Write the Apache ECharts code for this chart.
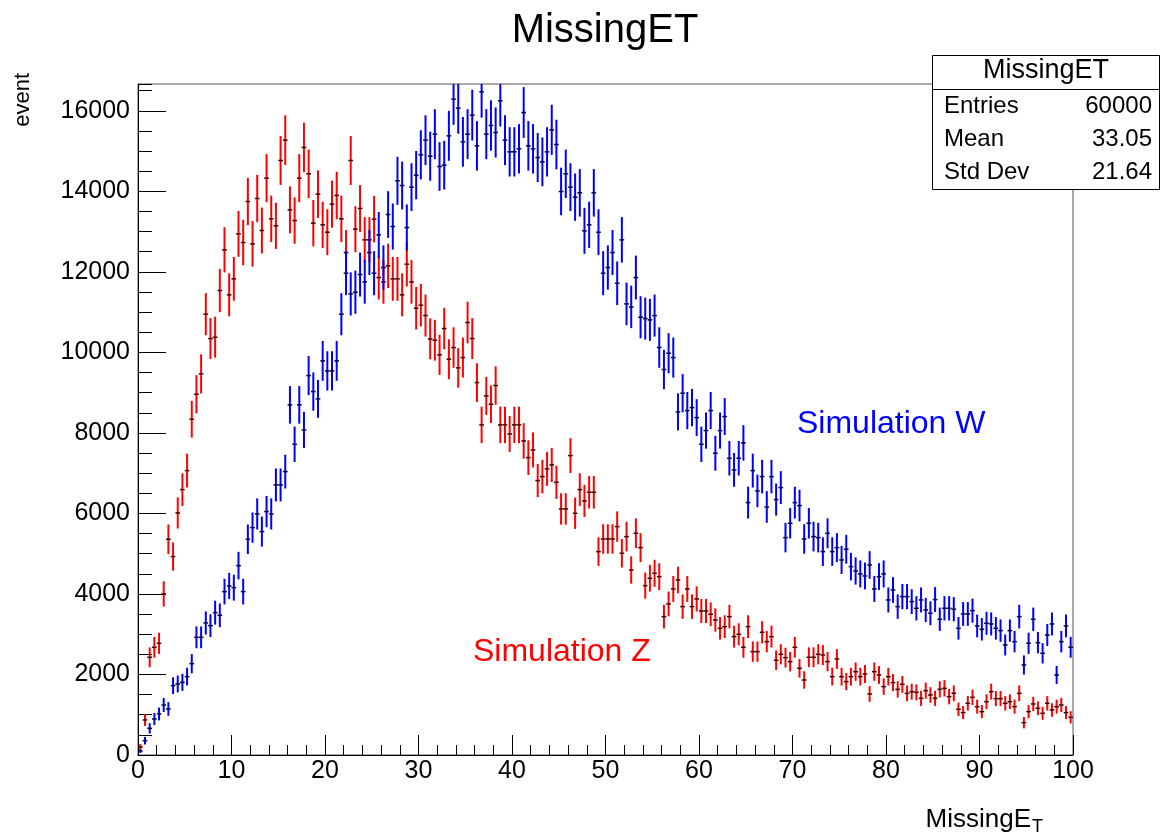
<!DOCTYPE html>
<html>
<head>
<meta charset="utf-8">
<script src="https://cdn.jsdelivr.net/npm/echarts@6/dist/echarts.min.js"></script>
<style>
html,body{margin:0;padding:0;background:#fff;}
#chart{width:1162px;height:834px;}
</style>
</head>
<body>
<div id="chart"></div>
<script>
// ---------------- data ----------------
const binWidth = 0.5;      // histogram bin width (MissingE_T units)
const xRange = [0, 100];
const yMax = 16666;
const xTickStep = 10;
const yTickStep = 2000;
const yMinorStep = 500;
const errScale = 25;       // weight per entry -> error = sqrt(weight * content)

// Simulation Z (red), 200 bins from 0 to 100
const zCounts = [
  200, 870, 2427, 2675, 2774, 4000, 5358, 4928, 6012, 6592,
  7064, 8340, 8961, 9466, 10949, 10343, 10377, 11536, 12547, 11429,
  11826, 12944, 12729, 13747, 12696, 13822, 13027, 14327, 13317, 13143,
  14766, 15272, 13540, 13275, 14327, 15089, 14435, 13209, 13930, 13168,
  12985, 13681, 13897, 13317, 12480, 14766, 13060, 13574, 12795, 12795,
  13309, 11859, 11751, 12149, 11826, 11826, 11429, 12190, 11751, 11097,
  11172, 10915, 10335, 10302, 9938, 10592, 9830, 10120, 9615, 9871,
  10741, 10344, 9250, 8199, 8919, 8712, 9176, 8199, 8199, 7975,
  8199, 8199, 7801, 7387, 7578, 6816, 6915, 7106, 7205, 6774,
  6112, 6112, 7437, 6004, 6592, 6311, 6526, 6526, 5052, 5366,
  5366, 5366, 5673, 5010, 5424, 4596, 5507, 5151, 4207, 4389,
  4513, 4430, 3437, 3752, 4124, 4348, 3685, 4124, 3685, 3876,
  3578, 3578, 3495, 3354, 3147, 3188, 3437, 2940, 2998, 2675,
  3188, 2567, 2567, 3048, 2816, 2940, 2352, 2501, 2418, 2319,
  2675, 2153, 1863, 2427, 2427, 2501, 2484, 2319, 1946, 2385,
  1946, 1822, 1946, 2070, 1946, 2012, 1516, 2070, 1988, 1698,
  1946, 1797, 1631, 1756, 1532, 1573, 1557, 1408, 1598, 1491,
  1408, 1631, 1656, 1449, 1532, 1135, 1052, 1284, 1433, 1201,
  1077, 1325, 1573, 1400, 1400, 1284, 1325, 1201, 1532, 803,
  1077, 1268, 1160, 1035, 1284, 1118, 1201, 1242, 1052, 936
];

// Simulation W (blue), 200 bins from 0 to 100
const wCounts = [
  100, 356, 662, 894, 1019, 1242, 1143, 1723, 1764, 1805,
  1946, 2269, 2923, 2923, 3280, 3213, 3536, 3470, 4058, 4199,
  4157, 4704, 4058, 5358, 5648, 5988, 5549, 6046, 5988, 6708,
  6708, 7039, 8696, 7718, 8696, 8075, 9424, 9027, 8845, 9789,
  9540, 9540, 9789, 10948, 11967, 11453, 11495, 11934, 11751, 12480,
  11967, 12919, 12108, 13424, 13126, 14261, 14145, 13101, 14104, 14402,
  14907, 15271, 14873, 15420, 14617, 14650, 15379, 16290, 16066, 15230,
  15420, 15892, 15130, 16472, 15420, 15636, 15462, 16248, 15271, 14981,
  14981, 15056, 15958, 15130, 15056, 14840, 14733, 14981, 15528, 15163,
  13996, 14435, 14104, 13855, 13963, 13019, 13168, 13963, 12985, 11967,
  12108, 12480, 11718, 12795, 11205, 11130, 11859, 10874, 10840, 10807,
  10915, 10120, 9574, 9979, 9871, 8522, 8985, 8555, 8629, 8381,
  7718, 8058, 8555, 7495, 8058, 8406, 7371, 7081, 7371, 7752,
  6269, 7064, 6559, 6915, 6161, 6915, 6344, 6642, 5400, 5756,
  6269, 6195, 5366, 5756, 5424, 5400, 5052, 5507, 5052, 5151,
  4845, 5110, 4679, 4571, 4497, 4447, 4720, 4124, 4431, 4497,
  3851, 4099, 3685, 3934, 3934, 3810, 3644, 3851, 3602, 3520,
  3860, 3371, 3644, 3644, 3620, 3147, 3503, 3503, 3586, 3205,
  3122, 3271, 3255, 3147, 3089, 2733, 3089, 2816, 3437, 2236,
  2774, 3371, 2790, 2526, 2981, 3255, 1988, 2816, 3205, 2675
];

const statsTitle = 'MissingET';
const statsRows = [['Entries', '60000'], ['Mean', '33.05'], ['Std Dev', '21.64']];

// ---------------- chart ----------------
const FONT = '"Liberation Sans", Arial, Helvetica, sans-serif';

function toPoints(counts) {
  return counts.map((c, i) => [xRange[0] + (i + 0.5) * binWidth, c, Math.sqrt(errScale * c)]);
}

function makeRender(color, markColor) {
  return function (params, api) {
    const x = api.value(0), y = api.value(1), e = api.value(2);
    const lo = api.coord([x, y - e]);
    const hi = api.coord([x, y + e]);
    const l = api.coord([x - binWidth / 2, y]);
    const r = api.coord([x + binWidth / 2, y]);
    return {
      type: 'group',
      children: [
        { type: 'line', shape: { x1: lo[0], y1: lo[1], x2: hi[0], y2: hi[1] },
          style: { stroke: color, lineWidth: 2 } },
        { type: 'line', shape: { x1: l[0], y1: l[1], x2: r[0], y2: r[1] },
          style: { stroke: markColor, lineWidth: 1.5 } }
      ]
    };
  };
}

const chart = echarts.init(document.getElementById('chart'), null, { renderer: 'canvas' });

const graphics = [
  { type: 'text', z: 100, x: 605, y: 31,
    style: { text: 'MissingET', font: '40px ' + FONT, fill: '#000', align: 'center', verticalAlign: 'middle' } },
  { type: 'text', z: 100, x: 23, y: 73, rotation: Math.PI / 2,
    style: { text: 'event', font: '22px ' + FONT, fill: '#000', align: 'right', verticalAlign: 'middle' } },
  { type: 'text', z: 100, x: 1031, y: 820,
    style: { text: 'MissingE', font: '26px ' + FONT, fill: '#000', align: 'right', verticalAlign: 'middle' } },
  { type: 'text', z: 100, x: 1032, y: 827,
    style: { text: 'T', font: '18px ' + FONT, fill: '#000', align: 'left', verticalAlign: 'middle' } },
  { type: 'text', z: 100, x: 797, y: 424,
    style: { text: 'Simulation W', font: '32px ' + FONT, fill: '#0000ff', align: 'left', verticalAlign: 'middle' } },
  { type: 'text', z: 100, x: 473, y: 652,
    style: { text: 'Simulation Z', font: '32px ' + FONT, fill: '#ff0000', align: 'left', verticalAlign: 'middle' } },
  { type: 'rect', z: 100, shape: { x: 932.5, y: 55.5, width: 227, height: 134 },
    style: { fill: '#fff', stroke: '#000', lineWidth: 1 } },
  { type: 'line', z: 101, shape: { x1: 932.5, y1: 89.5, x2: 1159.5, y2: 89.5 },
    style: { stroke: '#000', lineWidth: 1 } },
  { type: 'text', z: 101, x: 1046, y: 71,
    style: { text: statsTitle, font: '27px ' + FONT, fill: '#000', align: 'center', verticalAlign: 'middle' } }
];
statsRows.forEach((row, k) => {
  const yc = 106.5 + k * 33;
  graphics.push({ type: 'text', z: 101, x: 944, y: yc,
    style: { text: row[0], font: '24px ' + FONT, fill: '#000', align: 'left', verticalAlign: 'middle' } });
  graphics.push({ type: 'text', z: 101, x: 1152, y: yc,
    style: { text: row[1], font: '24px ' + FONT, fill: '#000', align: 'right', verticalAlign: 'middle' } });
});

const option = {
  backgroundColor: '#fff',
  animation: false,
  grid: { left: 138, top: 84, width: 935, height: 671, show: true,
          borderColor: '#555', borderWidth: 1, backgroundColor: 'transparent' },
  xAxis: {
    type: 'value', min: xRange[0], max: xRange[1], interval: xTickStep,
    axisLine: { show: true, lineStyle: { color: '#000', width: 1 } },
    axisTick: { show: true, inside: true, length: 20, lineStyle: { color: '#000', width: 1 } },
    minorTick: { show: true, splitNumber: 5, length: 10, lineStyle: { color: '#000', width: 1 } },
    axisLabel: { fontSize: 25, fontFamily: FONT, color: '#000', margin: 4, formatter: v => String(v) },
    splitLine: { show: false }, minorSplitLine: { show: false }
  },
  yAxis: [
    {
      type: 'value', min: 0, max: yMax, interval: yTickStep, position: 'left',
      axisLine: { show: true, lineStyle: { color: '#000', width: 1 } },
      axisTick: { show: true, inside: true, length: 28, lineStyle: { color: '#000', width: 1 } },
      axisLabel: { fontSize: 25, fontFamily: FONT, color: '#000', margin: 8, showMaxLabel: false,
                   formatter: v => String(v) },
      splitLine: { show: false }
    },
    {
      type: 'value', min: 0, max: yMax, interval: yMinorStep, position: 'left',
      axisLine: { show: false },
      axisTick: { show: true, inside: true, length: 14, lineStyle: { color: '#000', width: 1 } },
      axisLabel: { show: false },
      splitLine: { show: false }
    }
  ],
  series: [
    { type: 'custom', name: 'Simulation Z', xAxisIndex: 0, yAxisIndex: 0, clip: true,
      renderItem: makeRender('#ff0000', '#3a0000'), data: toPoints(zCounts), z: 2 },
    { type: 'custom', name: 'Simulation W', xAxisIndex: 0, yAxisIndex: 0, clip: true,
      renderItem: makeRender('#0000ff', '#00003a'), data: toPoints(wCounts), z: 3 }
  ],
  graphic: graphics
};
chart.setOption(option);
</script>
</body>
</html>
